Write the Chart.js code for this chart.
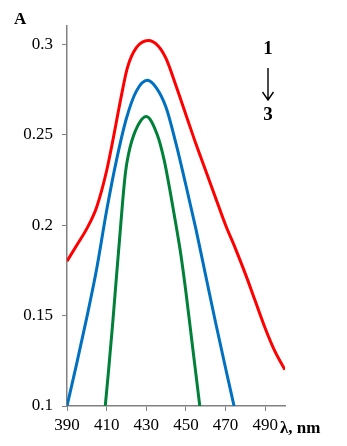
<!DOCTYPE html>
<html>
<head>
<meta charset="UTF-8">
<title>Absorption spectra</title>
<script src="https://cdn.jsdelivr.net/npm/chart.js"></script>
<style>
  html, body { margin: 0; padding: 0; background: #fff; }
  #wrap { width: 347px; height: 446px; }
</style>
</head>
<body>
<div id="wrap"><canvas id="spec"></canvas></div>
<script>
// wavelengths (nm) and absorbance for curves 1..3
const redX = [390, 395, 400, 405, 410, 413, 417, 420.5, 425, 431, 436, 440, 445, 450, 455, 460, 465, 470, 475, 480, 485, 490, 495, 500];
const redY = [0.180, 0.189, 0.198, 0.210, 0.230, 0.246, 0.269, 0.287, 0.298, 0.302, 0.299, 0.292, 0.277, 0.261, 0.245, 0.230, 0.215, 0.200, 0.187, 0.173, 0.158, 0.143, 0.130, 0.120];

const blueX = [390, 395, 400, 405, 410, 415, 420, 425, 430.5, 435, 440, 445, 450, 455, 460, 465, 470, 474.3];
const blueY = [0.100, 0.124, 0.149, 0.176, 0.208, 0.236, 0.259, 0.274, 0.280, 0.276, 0.265, 0.245, 0.222, 0.198, 0.172, 0.146, 0.121, 0.100];

const greenX = [409.3, 411, 413, 415, 416.5, 418, 419.5, 421, 424.5, 430, 435.5, 439, 442.3, 445, 447.4, 450, 453, 457];
const greenY = [0.100, 0.120, 0.145, 0.172, 0.192, 0.212, 0.229, 0.239, 0.252, 0.260, 0.250, 0.236, 0.217, 0.200, 0.184, 0.163, 0.136, 0.100];

const xTicks = [390, 410, 430, 450, 470, 490];
const yTicks = [0.1, 0.15, 0.2, 0.25, 0.3];

const pts = (xs, ys) => xs.map((x, i) => ({ x: x, y: ys[i] }));

const axisGrey = '#808080';
const serif = '"Liberation Serif", "Times New Roman", serif';

const labels = {
  id: 'labels',
  afterDraw(chart) {
    const c = chart.ctx;
    c.save();
    c.fillStyle = '#000';
    c.textBaseline = 'alphabetic';
    c.textAlign = 'left';
    c.font = 'bold 17px ' + serif;
    c.fillText('A', 14, 24);
    c.fillText('λ, nm', 280, 433);
    c.textAlign = 'center';
    c.font = 'bold 19px ' + serif;
    c.fillText('1', 268, 54);
    c.fillText('3', 268, 120);
    // arrow 1 -> 3
    c.strokeStyle = '#000';
    c.lineWidth = 1.4;
    c.beginPath();
    c.moveTo(268, 68);
    c.lineTo(268, 100);
    c.moveTo(262.5, 92);
    c.lineTo(268, 100);
    c.lineTo(273.5, 92);
    c.stroke();
    c.restore();
  }
};

new Chart(document.getElementById('spec'), {
  type: 'line',
  data: {
    datasets: [
      { label: '1', data: pts(redX, redY), borderColor: '#ff0000' },
      { label: '2', data: pts(blueX, blueY), borderColor: '#0070c0' },
      { label: '3', data: pts(greenX, greenY), borderColor: '#008038' }
    ]
  },
  options: {
    responsive: true,
    maintainAspectRatio: false,
    animation: false,
    layout: { padding: { left: 0, right: 62, top: 26, bottom: 0 } },
    elements: {
      point: { radius: 0 },
      line: { borderWidth: 3, cubicInterpolationMode: 'monotone', fill: false }
    },
    plugins: { legend: { display: false }, tooltip: { enabled: false } },
    scales: {
      x: {
        type: 'linear',
        min: 390,
        max: 500,
        afterBuildTicks: (s) => { s.ticks = xTicks.map(v => ({ value: v })); },
        afterFit: (s) => { s.height = 40; },
        border: { color: axisGrey, width: 1.5 },
        grid: { drawOnChartArea: false, color: axisGrey, tickLength: 5 },
        ticks: { color: '#000', padding: 4, maxRotation: 0, font: { family: serif, size: 17 } }
      },
      y: {
        min: 0.1,
        max: 0.31,
        afterBuildTicks: (s) => { s.ticks = yTicks.map(v => ({ value: v })); },
        afterFit: (s) => { s.width = 67; },
        border: { color: axisGrey, width: 1.5 },
        grid: { drawOnChartArea: false, color: axisGrey, tickLength: 5 },
        ticks: { color: '#000', padding: 9, font: { family: serif, size: 17 }, callback: (v) => String(v) }
      }
    }
  },
  plugins: [labels]
});
</script>
</body>
</html>
